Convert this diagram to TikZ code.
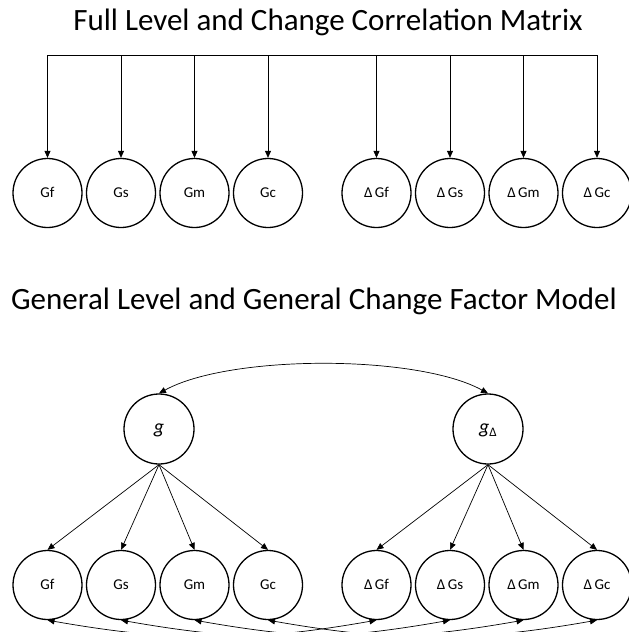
\documentclass[tikz,border=0pt]{standalone}
\usepackage{fontspec}
\setmainfont{Carlito}
\usetikzlibrary{arrows.meta}
\begin{document}
\begin{tikzpicture}[x=1pt,y=-1pt,
  var/.style={circle,draw,line width=1.3pt,minimum size=69pt,inner sep=0pt,text height=9.5pt,text depth=0pt,font=\fontsize{15}{17}\selectfont},
  fac/.style={circle,draw,line width=1.3pt,minimum size=70pt,inner sep=0pt,text height=8pt,text depth=0pt,font=\fontsize{20}{22}\selectfont\itshape},
  conn/.style={line width=0.7pt,-{Triangle[length=7pt,width=6pt]}},
  dconn/.style={line width=0.7pt,{Triangle[length=7pt,width=6pt]}-{Triangle[length=7pt,width=6pt]}},
  ttl/.style={font=\fontsize{31}{35}\selectfont,anchor=base,inner sep=0pt}]
\useasboundingbox (0,0) rectangle (629,632);
\clip (0,0) rectangle (629,632);
% titles
\node[ttl] (t1) at (328,30) {Full Level and Change Correlation Matrix};
\node[ttl] (t2) at (314,309) {General Level and General Change Factor Model};
% top row
\foreach \n/\x/\l in {aGf/47.5/Gf,aGs/121/Gs,aGm/194.5/Gm,aGc/268/Gc,
  aDGf/376.5/{Δ\,Gf},aDGs/450/{Δ\,Gs},aDGm/523.5/{Δ\,Gm},aDGc/597/{Δ\,Gc}}{
  \node[var] (\n) at (\x,193) {\l};
  \coordinate (\n t) at (\x,55);
}
\draw[line width=0.7pt] (aGft) -- (aDGct);
\foreach \n in {aGf,aGs,aGm,aGc,aDGf,aDGs,aDGm,aDGc}{
  \draw[conn] (\n t) -- (\n.north);
}
% bottom model
\node[fac] (g) at (159,429) {g};
\node[fac] (gD) at (488,429) {g\raisebox{-0.35ex}{\fontsize{13}{15}\selectfont\upshape Δ}};
\foreach \n/\x/\l in {bGf/47.5/Gf,bGs/121/Gs,bGm/194.5/Gm,bGc/268/Gc,
  bDGf/376.5/{Δ\,Gf},bDGs/450/{Δ\,Gs},bDGm/523.5/{Δ\,Gm},bDGc/597/{Δ\,Gc}}{
  \node[var] (\n) at (\x,585) {\l};
}
\draw[dconn] (g.north) .. controls +(71,-39) and +(-71,-39) .. (gD.north);
\foreach \n in {bGf,bGs,bGm,bGc}{
  \draw[conn] (g.south) -- (\n.north);
}
\foreach \n in {bDGf,bDGs,bDGm,bDGc}{
  \draw[conn] (gD.south) -- (\n.north);
}
\foreach \a/\b in {bGf/bDGf,bGs/bDGs,bGm/bDGm,bGc/bDGc}{
  \draw[dconn] (\a.south) to[out=-10,in=-170] (\b.south);
}
\end{tikzpicture}
\end{document}
